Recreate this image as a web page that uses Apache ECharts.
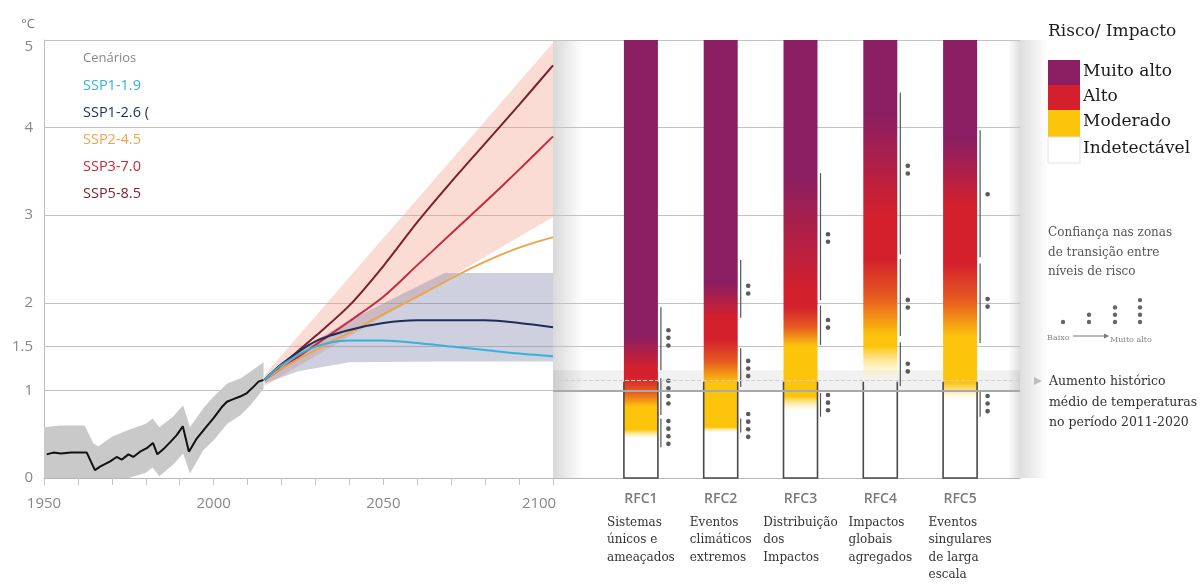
<!DOCTYPE html>
<html>
<head>
<meta charset="utf-8">
<script src="https://cdn.jsdelivr.net/npm/echarts@6/dist/echarts.min.js"></script>
<style>
  html, body { margin: 0; padding: 0; background: #fff; }
  #chart { width: 1200px; height: 586px; }
</style>
</head>
<body>
<div id="chart"></div>
<script>
// ---- Observed warming (°C above 1850–1900) ----
const histYears = [1950.8, 1952.7, 1955, 1958, 1962.6, 1965, 1966.5, 1969.5, 1971.4, 1972.9, 1974.9, 1976.3, 1978.3, 1980.3, 1982.1, 1983.4, 1985.2, 1987.2, 1989.1, 1990.9, 1992.7, 1995, 1997.5, 1999.9, 2002.4, 2003.9, 2005.8, 2007.8, 2009.8, 2011.7, 2013.2, 2014.7];
const histTemps = [0.27, 0.29, 0.28, 0.29, 0.29, 0.09, 0.13, 0.19, 0.24, 0.21, 0.27, 0.24, 0.30, 0.34, 0.40, 0.27, 0.33, 0.41, 0.49, 0.59, 0.30, 0.45, 0.57, 0.68, 0.81, 0.87, 0.90, 0.93, 0.97, 1.04, 1.10, 1.12];

// observed uncertainty range
const histBandYears = [1950, 1955, 1962, 1964.5, 1966, 1970, 1975, 1980, 1982, 1984, 1988, 1991, 1993, 1997, 2000, 2004, 2008, 2011, 2014.7];
const histBandHigh = [0.58, 0.60, 0.60, 0.40, 0.36, 0.47, 0.55, 0.62, 0.68, 0.58, 0.70, 0.83, 0.58, 0.80, 0.93, 1.08, 1.14, 1.22, 1.32];
const histBandLow = [0, 0, 0, 0, 0, 0, 0, 0.06, 0.12, 0.02, 0.15, 0.28, 0.05, 0.32, 0.43, 0.62, 0.72, 0.84, 1.02];

// ---- Scenario projections ----
const projYears = [2015, 2020, 2030, 2040, 2050, 2060, 2070, 2080, 2090, 2100];
const ssp119 = [1.12, 1.29, 1.50, 1.57, 1.57, 1.54, 1.50, 1.46, 1.42, 1.39];
const ssp126 = [1.12, 1.30, 1.56, 1.69, 1.77, 1.80, 1.80, 1.80, 1.77, 1.72];
const ssp245 = [1.12, 1.25, 1.46, 1.66, 1.87, 2.07, 2.28, 2.47, 2.63, 2.75];
const ssp370 = [1.12, 1.25, 1.52, 1.79, 2.07, 2.43, 2.79, 3.15, 3.52, 3.90];
const ssp585 = [1.12, 1.29, 1.62, 1.97, 2.42, 2.92, 3.38, 3.82, 4.26, 4.71];

const scenarioNames = ['SSP1-1.9', 'SSP1-2.6', 'SSP2-4.5', 'SSP3-7.0', 'SSP5-8.5'];
const scenarioLegend = ['SSP1-1.9', 'SSP1-2.6 (', 'SSP2-4.5', 'SSP3-7.0', 'SSP5-8.5'];
const scenarioColors = ['#35b2dc', '#1f2c56', '#e9a64a', '#c52a3d', '#7c1e2d'];
const scenarioData = [ssp119, ssp126, ssp245, ssp370, ssp585];

// very likely ranges
const highBandYears = [2015, 2100];
const highBandLow = [1.05, 2.98];
const highBandHigh = [1.18, 4.97];
const lowBandYears = [2015, 2025, 2040, 2068, 2100];
const lowBandLow = [1.08, 1.22, 1.32, 1.33, 1.33];
const lowBandHigh = [1.15, 1.45, 1.80, 2.34, 2.34];

// ---- Axes ----
const yTickLabels = [0, 1, 1.5, 2, 3, 4, 5];
const xLabelYears = [1950, 2000, 2050, 2100];
const xTickYears = [1950, 1960, 1970, 1980, 1990, 2000, 2010, 2020, 2030, 2040, 2050, 2060, 2070, 2080, 2090, 2100];

// ---- Reasons for concern ----
const rfcCodes = ['RFC1', 'RFC2', 'RFC3', 'RFC4', 'RFC5'];
const rfcNames = [
  ['Sistemas', 'únicos e', 'ameaçados'],
  ['Eventos', 'climáticos', 'extremos'],
  ['Distribuição', 'dos', 'Impactos'],
  ['Impactos', 'globais', 'agregados'],
  ['Eventos', 'singulares', 'de larga', 'escala']
];
// transition levels (°C)
const rfcUndetectable = [0.43, 0.51, 0.74, 1.05, 0.86];
const rfcModerateLow = [0.55, 0.58, 0.93, 1.50, 1.08];
const rfcModerateHigh = [0.81, 1.08, 1.50, 1.62, 1.61];
const rfcHighLow = [1.15, 1.58, 1.95, 2.50, 2.45];
const rfcHighHigh = [1.27, 1.84, 2.11, 3.00, 3.10];
const rfcVeryHigh = [1.61, 2.22, 3.44, 4.15, 3.86];
const rfcTop = 5;

// confidence in transitions: [rfc, from, to, dots, dot centre]
const rfcConfidence = [
  [0, 1.23, 1.95, 3, 1.60], [0, 0.72, 1.14, 4, 0.98], [0, 0.35, 0.68, 4, 0.52],
  [1, 1.83, 2.49, 2, 2.15], [1, 1.04, 1.48, 3, 1.25], [1, 0.52, 0.68, 4, 0.60],
  [2, 2.03, 3.48, 2, 2.74], [2, 1.52, 1.97, 2, 1.76], [2, 0.70, 0.97, 3, 0.86],
  [3, 2.55, 4.40, 2, 3.52], [3, 1.62, 2.50, 2, 1.99], [3, 1.05, 1.55, 2, 1.26],
  [4, 2.52, 3.97, 1, 3.24], [4, 1.54, 2.45, 2, 2.00], [4, 0.70, 1.00, 3, 0.85]
];

// recent warming, 2011–2020
const recentWarming = 1.1;
const recentRange = [1.0, 1.23];
const recentMean = 1.12;

const riskLevels = ['Muito alto', 'Alto', 'Moderado', 'Indetectável'];
const riskColors = ['#8b1e62', '#d4202c', '#fcc50c', '#ffffff'];
const orangeTone = '#e65a20';

// x-axis runs on past 2100 so the RFC panel shares the same frame
const xMax = 2237.6;

const chart = echarts.init(document.getElementById('chart'), null, { renderer: 'canvas' });

function bandSeries(years, low, high, fill) {
  return {
    type: 'custom', xAxisIndex: 0, yAxisIndex: 0, silent: true,
    data: [[years[0], low[0]]], encode: { x: 0, y: 1 },
    renderItem: function (params, api) {
      const pts = [];
      for (let i = 0; i < years.length; i++) pts.push(api.coord([years[i], high[i]]));
      for (let i = years.length - 1; i >= 0; i--) pts.push(api.coord([years[i], low[i]]));
      return { type: 'polygon', shape: { points: pts }, style: { fill: fill } };
    }
  };
}

function off(v) { return (rfcTop - v) / rfcTop; }
const transparent = 'rgba(255,255,255,0)';
const barData = rfcCodes.map(function (c, i) {
  const orangeAt = (off(rfcHighLow[i]) + off(rfcModerateHigh[i])) / 2;
  return {
    value: rfcTop,
    itemStyle: {
      color: new echarts.graphic.LinearGradient(0, 0, 0, 1, [
        { offset: 0, color: riskColors[0] },
        { offset: off(rfcVeryHigh[i]), color: riskColors[0] },
        { offset: off(rfcHighHigh[i]), color: riskColors[1] },
        { offset: off(rfcHighLow[i]), color: riskColors[1] },
        { offset: orangeAt, color: orangeTone },
        { offset: off(rfcModerateHigh[i]), color: riskColors[2] },
        { offset: off(rfcModerateLow[i]), color: riskColors[2] },
        { offset: off(rfcUndetectable[i]), color: transparent },
        { offset: 1, color: transparent }
      ])
    }
  };
});

const splitColors = [];
for (let v = 0; v <= 5.0001; v += 0.5) {
  const r = Math.round(v * 2) / 2;
  splitColors.push(yTickLabels.indexOf(r) >= 0 ? '#c2c2c2' : 'rgba(0,0,0,0)');
}

const BAR_HALF = 17;

const series = [
  bandSeries(histBandYears, histBandLow, histBandHigh, '#c9c9c9'),
  bandSeries(highBandYears, highBandLow, highBandHigh, 'rgba(240,150,128,0.33)'),
  bandSeries(lowBandYears, lowBandLow, lowBandHigh, 'rgba(120,125,165,0.36)')
];
for (let k = scenarioNames.length - 1; k >= 0; k--) {
  series.push({
    name: scenarioNames[k], type: 'line', xAxisIndex: 0, yAxisIndex: 0,
    data: projYears.map(function (y, i) { return [y, scenarioData[k][i]]; }),
    symbol: 'none', smooth: 0.3, silent: true,
    lineStyle: { color: scenarioColors[k], width: 2 }
  });
}
series.push({
  name: 'Observado', type: 'line', xAxisIndex: 0, yAxisIndex: 0,
  data: histYears.map(function (y, i) { return [y, histTemps[i]]; }),
  symbol: 'none', silent: true,
  lineStyle: { color: '#111', width: 2 }
});
// recent-warming band across the RFC panel
series.push({
  type: 'line', xAxisIndex: 0, yAxisIndex: 0, data: [], silent: true,
  markArea: {
    silent: true, label: { show: false },
    itemStyle: { color: 'rgba(0,0,0,0.055)' },
    data: [[{ xAxis: 2100, yAxis: recentRange[0] }, { xAxis: xMax, yAxis: recentRange[1] }]]
  },
  markLine: {
    silent: true, symbol: 'none', label: { show: false },
    data: [
      [{ coord: [2100, recentMean], lineStyle: { color: '#cfcfcf', type: 'dashed', width: 1 } }, { coord: [xMax, recentMean] }],
      [{ coord: [2100, recentRange[0]], lineStyle: { color: '#a9a9a9', type: 'solid', width: 2 } }, { coord: [xMax, recentRange[0]] }]
    ]
  }
});
// RFC bars
series.push({
  type: 'bar', xAxisIndex: 1, yAxisIndex: 1, barWidth: BAR_HALF * 2, silent: true,
  data: barData, z: 3
});
// outline of the present-day segment
series.push({
  type: 'custom', xAxisIndex: 1, yAxisIndex: 1, silent: true, z: 4,
  data: rfcCodes.map(function (c, i) { return [i, recentWarming]; }),
  renderItem: function (params, api) {
    const base = api.coord([api.value(0), 0]);
    const top = api.coord([api.value(0), api.value(1)]);
    return {
      type: 'polyline',
      shape: { points: [[base[0] - BAR_HALF, top[1]], [base[0] - BAR_HALF, base[1]], [base[0] + BAR_HALF, base[1]], [base[0] + BAR_HALF, top[1]]] },
      style: { stroke: '#4a4a4a', lineWidth: 1.6, fill: null }
    };
  }
});
// confidence markers
series.push({
  type: 'custom', xAxisIndex: 1, yAxisIndex: 1, silent: true, z: 4, clip: false,
  data: rfcConfidence,
  renderItem: function (params, api) {
    const a = api.coord([api.value(0), api.value(1)]);
    const b = api.coord([api.value(0), api.value(2)]);
    const c = api.coord([api.value(0), api.value(4)]);
    const n = api.value(3);
    const lx = a[0] + BAR_HALF + 3;
    const children = [{
      type: 'line', shape: { x1: lx, y1: a[1], x2: lx, y2: b[1] },
      style: { stroke: '#555', lineWidth: 1.2 }
    }];
    for (let k = 0; k < n; k++) {
      children.push({
        type: 'circle',
        shape: { cx: lx + 7.5, cy: c[1] + (k - (n - 1) / 2) * 7.6, r: 2.3 },
        style: { fill: '#5a5a5a' }
      });
    }
    return { type: 'group', children: children };
  }
});

const option = {
  animation: false,
  backgroundColor: '#ffffff',
  grid: [
    { left: 44, right: 180, top: 40, bottom: 108 },
    { left: 601, right: 200, top: 40, bottom: 108 }
  ],
  xAxis: [
    {
      type: 'value', gridIndex: 0, min: 1950, max: xMax,
      axisLine: { show: true, lineStyle: { color: '#b5b5b5', width: 1 } },
      axisTick: { show: true, customValues: xTickYears, length: 7, lineStyle: { color: '#c4c4c4' } },
      axisLabel: {
        customValues: xLabelYears, margin: 18, color: '#888', fontFamily: 'Open Sans', fontSize: 15,
        formatter: function (v) {
          if (v > 2100) return '';
          return v === 2100 ? '{shift|2100}' : String(v);
        },
        rich: { shift: { color: '#888', fontFamily: 'Open Sans', fontSize: 15, padding: [0, 28, 0, 0] } }
      },
      splitLine: { show: false }
    },
    {
      type: 'category', gridIndex: 1, data: rfcCodes,
      axisLine: { show: false }, axisTick: { show: false }, splitLine: { show: false },
      axisLabel: {
        interval: 0, margin: 6,
        formatter: function (v, i) {
          return '{t|' + v + '}\n' + rfcNames[i].map(function (s) { return '{d|' + s + '}'; }).join('\n');
        },
        rich: {
          t: { fontFamily: 'Open Sans', fontSize: 14, fontWeight: 600, color: '#7a7a7a', align: 'center', lineHeight: 30 },
          d: { fontFamily: 'DejaVu Serif', fontSize: 12, color: '#333', align: 'left', lineHeight: 17.5 }
        }
      }
    }
  ],
  yAxis: [
    {
      type: 'value', gridIndex: 0, min: 0, max: 5, interval: 0.5,
      name: '°C', nameLocation: 'end', nameGap: 16,
      nameTextStyle: { color: '#777', fontFamily: 'Open Sans', fontSize: 13, align: 'right', verticalAlign: 'middle', padding: [0, 9, 0, 0] },
      axisLine: { show: true, lineStyle: { color: '#bdbdbd', width: 1 } },
      axisTick: { show: false },
      axisLabel: {
        margin: 11, color: '#888', fontFamily: 'Open Sans', fontSize: 15,
        formatter: function (v) {
          const r = Math.round(v * 2) / 2;
          if (yTickLabels.indexOf(r) < 0) return '';
          return r === 5 ? '{low|5}' : String(r);
        },
        rich: { low: { color: '#888', fontFamily: 'Open Sans', fontSize: 15, padding: [14, 0, 0, 0] } }
      },
      splitLine: { show: true, lineStyle: { color: splitColors, width: 1 } }
    },
    { type: 'value', gridIndex: 1, min: 0, max: 5, show: false }
  ],
  series: series
};

chart.setOption(option);

// ---- panel shading and legends ----
const px2100 = chart.convertToPixel({ xAxisIndex: 0 }, 2100);
const pxEnd = chart.convertToPixel({ xAxisIndex: 0 }, xMax);
const pyTop = chart.convertToPixel({ yAxisIndex: 0 }, 5);
const pyBottom = chart.convertToPixel({ yAxisIndex: 0 }, 0);

const graphics = [
  {
    type: 'rect', z: -1, silent: true,
    shape: { x: px2100, y: pyTop, width: 30, height: pyBottom - pyTop },
    style: { fill: new echarts.graphic.LinearGradient(0, 0, 1, 0, [
      { offset: 0, color: 'rgba(0,0,0,0.15)' }, { offset: 1, color: 'rgba(0,0,0,0)' }]) }
  },
  {
    type: 'rect', z: -1, silent: true,
    shape: { x: pxEnd - 12, y: pyTop, width: 40, height: pyBottom - pyTop },
    style: { fill: new echarts.graphic.LinearGradient(0, 0, 1, 0, [
      { offset: 0, color: 'rgba(0,0,0,0)' }, { offset: 0.3, color: 'rgba(0,0,0,0.13)' }, { offset: 1, color: 'rgba(0,0,0,0)' }]) }
  },
  { type: 'text', x: 83, y: 58, style: { text: 'Cenários', fill: '#888', font: '13px "Open Sans"', verticalAlign: 'middle' } }
];
scenarioLegend.forEach(function (name, i) {
  graphics.push({ type: 'text', x: 83, y: 86 + i * 27, style: { text: name, fill: scenarioColors[i], font: '14.5px "Open Sans"', verticalAlign: 'middle' } });
});

graphics.push({ type: 'text', x: 1048, y: 32, style: { text: 'Risco/ Impacto', fill: '#1e1e1e', font: '17px "DejaVu Serif"', verticalAlign: 'middle' } });
const swatchTops = [60, 85, 110, 137];
const swatchHeights = [25, 25, 27, 26];
riskLevels.forEach(function (lvl, i) {
  graphics.push({
    type: 'rect', shape: { x: 1048, y: swatchTops[i], width: 32, height: swatchHeights[i] },
    style: { fill: riskColors[i], stroke: i === 3 ? '#e2e2e2' : null, lineWidth: 1 }
  });
  graphics.push({ type: 'text', x: 1083, y: swatchTops[i] + 12, style: { text: lvl, fill: '#1a1a1a', font: '17px "DejaVu Serif"', verticalAlign: 'middle' } });
});

['Confiança nas zonas', 'de transição entre', 'níveis de risco'].forEach(function (s, i) {
  graphics.push({ type: 'text', x: 1048, y: 233 + i * 19.5, style: { text: s, fill: '#555', font: '12px "DejaVu Serif"', verticalAlign: 'middle' } });
});
[1063, 1089, 1115, 1140].forEach(function (cx, i) {
  for (let k = 0; k <= i; k++) {
    graphics.push({ type: 'circle', shape: { cx: cx, cy: 322 - k * 7.3, r: 2.2 }, style: { fill: '#666' } });
  }
});
graphics.push({ type: 'text', x: 1047, y: 338, style: { text: 'Baixo', fill: '#888', font: '8px "DejaVu Serif"', verticalAlign: 'middle' } });
graphics.push({ type: 'line', shape: { x1: 1073, y1: 336, x2: 1105, y2: 336 }, style: { stroke: '#777', lineWidth: 1 } });
graphics.push({ type: 'polygon', shape: { points: [[1104, 333.5], [1109, 336], [1104, 338.5]] }, style: { fill: '#777' } });
graphics.push({ type: 'text', x: 1110, y: 340, style: { text: 'Muito alto', fill: '#888', font: '8px "DejaVu Serif"', verticalAlign: 'middle' } });

graphics.push({ type: 'polygon', shape: { points: [[1034, 377], [1042, 381], [1034, 385]] }, style: { fill: '#bdbdbd' } });
['Aumento histórico', 'médio de temperaturas', 'no período 2011-2020'].forEach(function (s, i) {
  graphics.push({ type: 'text', x: 1049, y: 382 + i * 20.5, style: { text: s, fill: '#333', font: '12.5px "DejaVu Serif"', verticalAlign: 'middle' } });
});

chart.setOption({ graphic: graphics });
</script>
</body>
</html>
